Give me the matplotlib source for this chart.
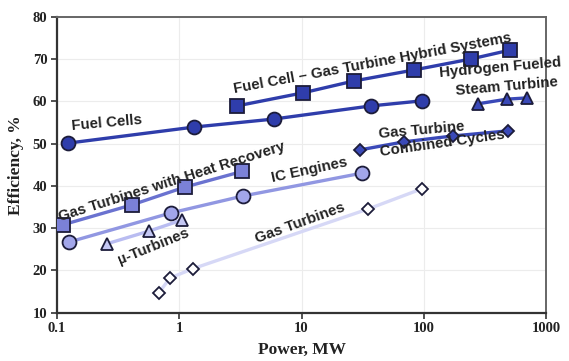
import matplotlib
matplotlib.use("Agg")
import matplotlib.pyplot as plt

# SERIES DATA (power in MW, efficiency in %)

fc_power = [0.123, 1.32, 5.94, 36.9, 96.4]
fc_eff = [50.1, 53.9, 55.8, 58.9, 60.1]

hybrid_power = [2.96, 10.3, 26.8, 83.0, 243.0, 506.0]
hybrid_eff = [58.9, 62.0, 64.8, 67.4, 70.0, 72.1]

h2_power = [277.0, 478.0, 697.0]
h2_eff = [59.4, 60.5, 60.8]

cc_power = [30.0, 68.7, 173.0, 488.0]
cc_eff = [48.5, 50.4, 51.8, 53.0]

gthr_power = [0.112, 0.41, 1.11, 3.26]
gthr_eff = [30.8, 35.5, 39.7, 43.4]

ic_power = [0.125, 0.855, 3.32, 31.2]
ic_eff = [26.7, 33.6, 37.6, 43.0]

micro_power = [0.256, 0.565, 1.05]
micro_eff = [26.3, 29.3, 31.9]

gt_power = [0.68, 0.84, 1.29, 34.9, 96.4]
gt_eff = [14.7, 18.2, 20.4, 34.5, 39.3]

x_ticks = [0.1, 1, 10, 100, 1000]
x_tick_labels = ["0.1", "1", "10", "100", "1000"]
y_ticks = [10, 20, 30, 40, 50, 60, 70, 80]

# FIGURE

fig = plt.figure(figsize=(5.69, 3.61), dpi=100)
ax = fig.add_axes([0.1002, 0.1338, 0.8594, 0.8199])

edge = "#1c1c3a"

series = [
    (fc_power, fc_eff, "o", "#2f3dab", "#2f3dab", 10),
    (hybrid_power, hybrid_eff, "s", "#2f3dab", "#2f3dab", 9.5),
    (h2_power, h2_eff, "^", "#3a49b8", "#3a49b8", 8.5),
    (cc_power, cc_eff, "D", "#3a49b8", "#3a49b8", 6.5),
    (gthr_power, gthr_eff, "s", "#6a72d0", "#7b81d8", 9.5),
    (ic_power, ic_eff, "o", "#9197e2", "#a2a6ea", 10),
    (micro_power, micro_eff, "^", "#b9bcf1", "#c4c7f3", 8.5),
    (gt_power, gt_eff, "D", "#d6d8f6", "white", 6.5),
]

for px, py, mk, line_col, fill_col, ms in series:
    ax.plot(
        px,
        py,
        color=line_col,
        linewidth=2.4,
        marker=mk,
        markersize=ms,
        markerfacecolor=fill_col,
        markeredgecolor=edge,
        markeredgewidth=1.3,
        solid_capstyle="round",
        zorder=3
    )

# SERIES LABELS

label_font = dict(
    family="Liberation Sans",
    fontsize=10.8,
    fontweight="bold",
    color="#222222",
    ha="center",
    va="center",
    zorder=4
)

ax.text(0.256, 54.8, "Fuel Cells", rotation=5, **label_font)
ax.text(38.4, 69.0, "Fuel Cell \u2013 Gas Turbine Hybrid Systems", rotation=10.5, **label_font)
ax.text(419, 67.9, "Hydrogen Fueled", rotation=5, **label_font)
ax.text(478, 63.4, "Steam Turbine", rotation=5, **label_font)
ax.text(96, 53.2, "Gas Turbine", rotation=5, **label_font)
ax.text(143, 50.1, "Combined Cycles", rotation=8, **label_font)
ax.text(0.871, 40.9, "Gas Turbines with Heat Recovery", rotation=17.5, **label_font)
ax.text(11.7, 43.8, "IC Engines", rotation=12, **label_font)
ax.text(0.61, 25.6, "\u00b5-Turbines", rotation=22, **label_font)
ax.text(9.7, 31.2, "Gas Turbines", rotation=20, **label_font)

# AXES

ax.set_xscale("log")
ax.set_xlim(0.1, 1000)
ax.set_ylim(10, 80)

ax.set_xticks(x_ticks)
ax.set_xticklabels(x_tick_labels)
ax.set_yticks(y_ticks)
ax.minorticks_off()

for lab in ax.get_xticklabels() + ax.get_yticklabels():
    lab.set_fontfamily("Liberation Serif")
    lab.set_fontsize(10.5)
    lab.set_fontweight("bold")
    lab.set_color("#222222")

ax.tick_params(direction="out", length=4, width=1.2, color="#333333", pad=3)

ax.grid(True, color="#ececec", linewidth=0.8, zorder=0)
ax.set_axisbelow(True)

for side in ["left", "bottom"]:
    ax.spines[side].set_color("#333333")
    ax.spines[side].set_linewidth(1.6)
for side in ["right", "top"]:
    ax.spines[side].set_color("#666666")
    ax.spines[side].set_linewidth(1.4)

ax.set_xlabel("Power, MW", family="Liberation Serif", fontsize=12.5, fontweight="bold", color="#222222", labelpad=5)
ax.set_ylabel("Efficiency, %", family="Liberation Serif", fontsize=12.5, fontweight="bold", color="#222222", labelpad=6)

plt.savefig("out.png", dpi=100)
